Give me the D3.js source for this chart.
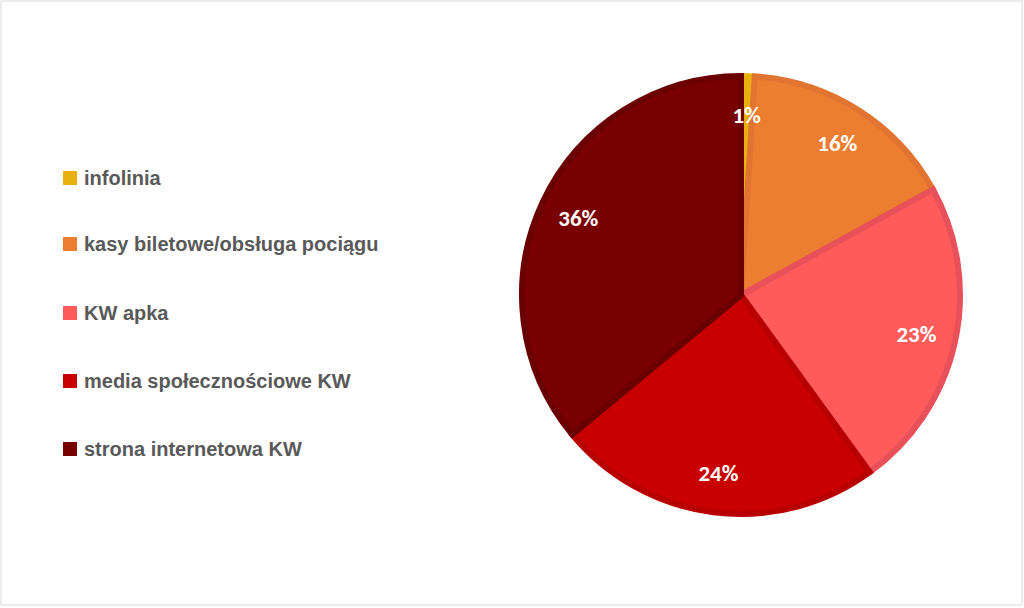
<!DOCTYPE html>
<html><head><meta charset="utf-8">
<script src="https://cdn.jsdelivr.net/npm/d3@7/dist/d3.min.js"></script>
<style>body{margin:0;background:#fff}</style></head>
<body><svg id="c" width="1024" height="608"></svg>
<script>
const categories=["infolinia","kasy biletowe/obsługa pociągu","KW apka","media społecznościowe KW","strona internetowa KW"];
const values=[1,16,23,24,36];
const labels=["1%","16%","23%","24%","36%"];
const colors=["#E9B10F","#ED7D31","#FF5B5B","#C80000","#780000"];
const strokes=["#E9B10F","#E07430","#E8505A","#B80000","#6A0000"];
const svg=d3.select("#c");
svg.append("rect").attr("x",1).attr("y",1).attr("width",1021).attr("height",604).attr("fill","#fff").attr("stroke","#d9d9d9");
const cx=741,cy=295,R=222;
const pie=d3.pie().sort(null).value(d=>d)(values);
const arc=d3.arc().innerRadius(0).outerRadius(R-3);
const g=svg.append("g").attr("transform",`translate(${cx},${cy})`);
g.selectAll("path").data(pie).join("path").attr("d",arc)
 .attr("fill",(d,i)=>colors[i]).attr("stroke",(d,i)=>strokes[i]).attr("stroke-width",6).attr("stroke-linejoin","miter");
const la=d3.arc().innerRadius(R*0.81).outerRadius(R*0.81);
g.selectAll("text").data(pie).join("text")
 .attr("transform",d=>`translate(${la.centroid(d)})`)
 .attr("text-anchor","middle").attr("dy","0.35em")
 .attr("font-family","Carlito, 'Liberation Sans', Arial").attr("font-weight","bold").attr("font-size",23).attr("fill","#fff")
 .text((d,i)=>labels[i]);
const ly=[178,244,313,381,449];
const lg=svg.append("g");
categories.forEach((c,i)=>{
 lg.append("rect").attr("x",63).attr("y",ly[i]-7).attr("width",14).attr("height",14).attr("fill",colors[i]);
 lg.append("text").attr("x",84).attr("y",ly[i]).attr("dy","0.35em")
  .attr("font-family","'Liberation Sans', Arial").attr("font-weight","bold").attr("font-size",20).attr("fill","#595959").text(c);
});
</script></body></html>
